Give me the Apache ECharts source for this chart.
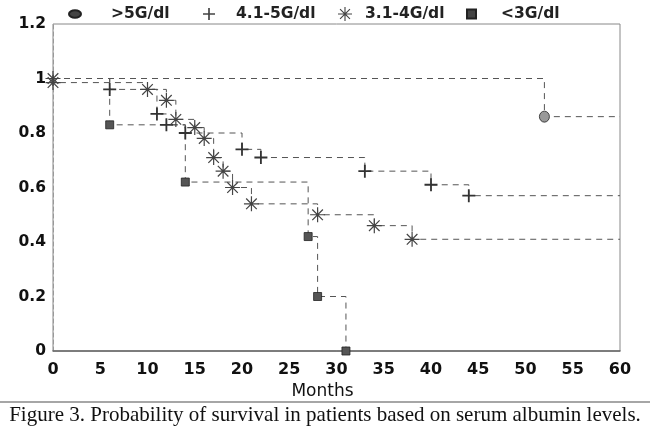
<!DOCTYPE html>
<html>
<head>
<meta charset="utf-8">
<script src="https://cdn.jsdelivr.net/npm/echarts@6/dist/echarts.min.js"></script>
<style>
html, body { margin: 0; padding: 0; background: #fff; }
#chart { width: 650px; height: 440px; }
</style>
</head>
<body>
<div id="chart"></div>
<script>
// survival curves (months, probability)
var gt5Months = [0, 52, 60];
var gt5Surv = [1, 0.86, 0.86];

var alb41Months = [0, 6, 11, 12, 14, 20, 22, 33, 40, 44, 60];
var alb41Surv = [1, 0.96, 0.87, 0.83, 0.80, 0.74, 0.71, 0.66, 0.61, 0.57, 0.57];

var alb31Months = [0, 0, 10, 12, 13, 15, 16, 17, 18, 19, 21, 28, 34, 38, 60];
var alb31Surv = [1, 0.985, 0.96, 0.92, 0.85, 0.82, 0.78, 0.71, 0.66, 0.60, 0.54, 0.50, 0.46, 0.41, 0.41];

var lt3Months = [0, 6, 14, 27, 28, 31];
var lt3Surv = [1, 0.83, 0.62, 0.42, 0.20, 0];

var groupNames = [">5G/dl", "4.1-5G/dl", "3.1-4G/dl", "<3G/dl"];
var xTicks = [0, 5, 10, 15, 20, 25, 30, 35, 40, 45, 50, 55, 60];

var plusPath = "path://M0,4.3H10V5.7H0Z M4.3,0H5.7V10H4.3Z";
var starPath = "path://M0,9.2H20V10.8H0Z M9.2,0H10.8V20H9.2Z M2.36,3.5L3.5,2.36L17.64,16.5L16.5,17.64Z M16.5,2.36L17.64,3.5L3.5,17.64L2.36,16.5Z";
var ovalPath = "path://M0,5a8,5 0 1,0 16,0a8,5 0 1,0 -16,0Z";

var chart = echarts.init(document.getElementById("chart"));

function stepData(months, surv, markFirst) {
    var out = [];
    for (var i = 0; i < months.length; i++) {
        var item = { value: [months[i], surv[i]] };
        if ((i === 0 && !markFirst) || months[i] === xTicks[xTicks.length - 1]) {
            item.symbol = "none";
        }
        out.push(item);
    }
    return out;
}

function curve(name, months, surv, symbol, size, color, markFirst) {
    return {
        name: name,
        type: "line",
        step: "end",
        symbol: symbol,
        symbolSize: size,
        showAllSymbol: true,
        z: 3,
        itemStyle: { color: color, borderColor: "#222", borderWidth: symbol === "rect" || symbol === "circle" ? 0.8 : 0 },
        lineStyle: { color: "#555", width: 1, type: [6, 5] },
        data: stepData(months, surv, markFirst)
    };
}

function legendAt(left, name, icon, w, h, pad) {
    return {
        left: left,
        top: 6,
        padding: 0,
        itemWidth: w,
        itemHeight: h,
        data: [{ name: name, icon: icon, itemStyle: { color: "#444" } }],
        textStyle: {
            fontFamily: "DejaVu Sans",
            fontWeight: "bold",
            fontSize: 15.5,
            color: "#222",
            padding: [0, 0, 0, pad]
        }
    };
}

var option = {
    animation: false,
    backgroundColor: "#fff",
    legend: [
        legendAt(68, groupNames[0], ovalPath, 12, 8, 25),
        legendAt(203, groupNames[1], plusPath, 14, 12, 15),
        legendAt(338, groupNames[2], starPath, 14, 14, 8),
        legendAt(466, groupNames[3], "rect", 9, 9, 20)
    ],
    grid: {
        left: 53, right: 30, top: 24, bottom: 89,
        show: true,
        borderColor: "#888",
        borderWidth: 1
    },
    xAxis: {
        type: "value",
        min: 0, max: 60, interval: 5,
        name: "Months",
        nameLocation: "middle",
        nameGap: 32,
        nameTextStyle: { fontFamily: "DejaVu Sans", fontSize: 17, color: "#111", padding: [0, 28, 0, 0] },
        axisLine: { lineStyle: { color: "#666", width: 1.5 } },
        axisTick: { show: false },
        splitLine: { show: false },
        axisLabel: { margin: 11, fontFamily: "DejaVu Sans", fontWeight: "bold", fontSize: 16, color: "#111" }
    },
    yAxis: {
        type: "value",
        min: 0, max: 1.2, interval: 0.2,
        axisLine: { show: true, lineStyle: { color: "#999", width: 1, type: [4, 3] } },
        axisTick: { show: false },
        splitLine: { show: false },
        axisLabel: { margin: 7, fontFamily: "DejaVu Sans", fontWeight: "bold", fontSize: 15.5, color: "#111" }
    },
    graphic: [
        { type: "line", shape: { x1: 0, y1: 402, x2: 650, y2: 402 }, style: { stroke: "#888", lineWidth: 1.5 } },
        {
            type: "text", left: "center", top: 405,
            style: { text: "Figure 3. Probability of survival in patients based on serum albumin levels.", font: "21px 'Liberation Serif'", fill: "#111" }
        }
    ],
    series: [
        curve(groupNames[0], gt5Months, gt5Surv, "circle", [10, 11], "#999", false),
        curve(groupNames[1], alb41Months, alb41Surv, plusPath, 13, "#333", false),
        curve(groupNames[2], alb31Months, alb31Surv, starPath, 15, "#444", true),
        curve(groupNames[3], lt3Months, lt3Surv, "rect", 8, "#555", false)
    ]
};

chart.setOption(option);
</script>
</body>
</html>
